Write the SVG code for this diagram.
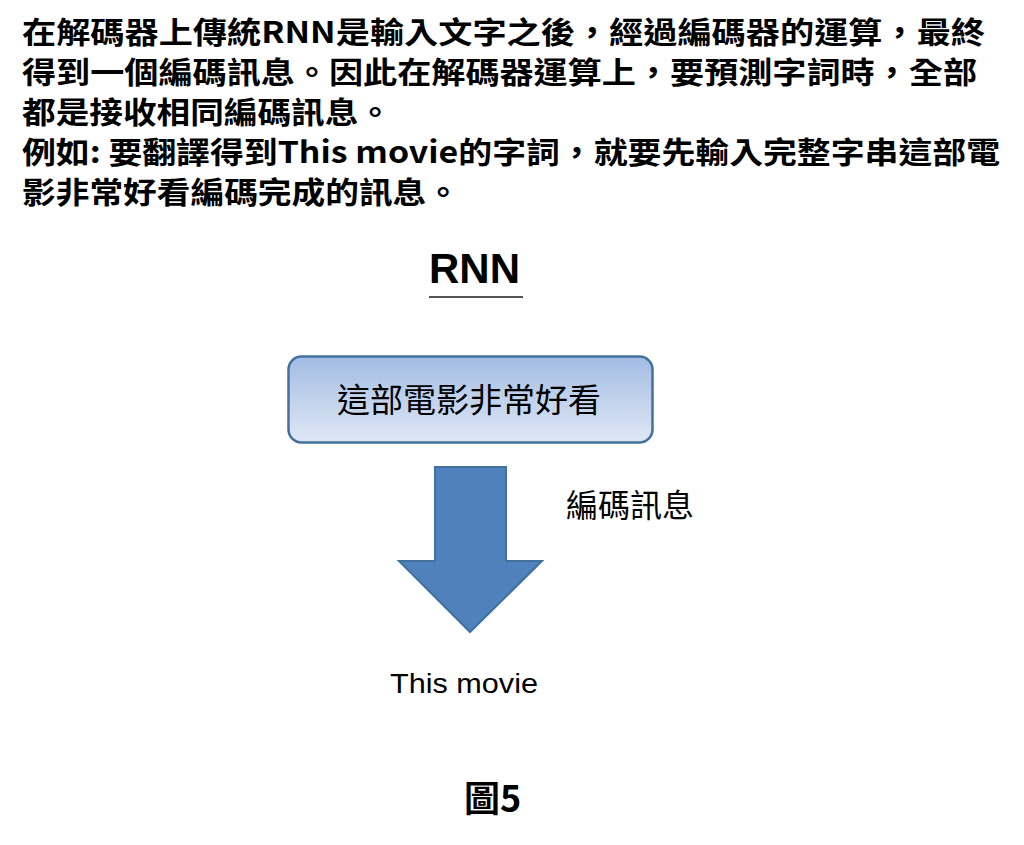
<svg xmlns="http://www.w3.org/2000/svg" width="1024" height="845" viewBox="0 0 1024 845">
<defs>
<linearGradient id="boxGrad" x1="0" y1="0" x2="0" y2="1">
<stop offset="0" stop-color="#a3bce3"/>
<stop offset="1" stop-color="#dfe8f5"/>
</linearGradient>
<style>
.para{font-family:"Noto Sans CJK TC","Noto Sans CJK SC",sans-serif;font-size:30px;font-weight:bold;fill:#000}
.cjk{font-family:"Noto Sans CJK TC","Noto Sans CJK SC",sans-serif;fill:#000}
.lat{font-family:"Liberation Sans",Arial,sans-serif;fill:#000}
</style>
</defs>
<rect width="1024" height="845" fill="#fff"/>
<g id="paragraph">
<text class="para" x="22" y="43" textLength="963" lengthAdjust="spacingAndGlyphs">在解碼器上傳統RNN是輸入文字之後，經過編碼器的運算，最終</text>
<text class="para" x="22" y="83" textLength="955" lengthAdjust="spacingAndGlyphs">得到一個編碼訊息。因此在解碼器運算上，要預測字詞時，全部</text>
<text class="para" x="22" y="123" textLength="370" lengthAdjust="spacingAndGlyphs">都是接收相同編碼訊息。</text>
<text class="para" x="22" y="163" textLength="978" lengthAdjust="spacingAndGlyphs">例如: 要翻譯得到This movie的字詞，就要先輸入完整字串這部電</text>
<text class="para" x="22" y="203" textLength="438" lengthAdjust="spacingAndGlyphs">影非常好看編碼完成的訊息。</text>
</g>
<g id="title">
<text class="lat" x="429" y="283" font-size="42" font-weight="bold" textLength="91" lengthAdjust="spacingAndGlyphs">RNN</text>
<line x1="429" y1="297" x2="523" y2="297" stroke="#555" stroke-width="2"/>
</g>
<g id="input-box">
<rect x="288.5" y="356.5" width="364" height="86" rx="13" ry="13" fill="url(#boxGrad)" stroke="#41719c" stroke-width="2.5"/>
<text class="cjk" x="469" y="412" font-size="33" text-anchor="middle">這部電影非常好看</text>
</g>
<g id="connectors">
<polygon points="435,467 506,467 506,561 542,561 470,632 399,561 435,561" fill="#4f81bd" stroke="#41719c" stroke-width="2"/>
</g>
<g id="arrow-label">
<text class="cjk" x="566" y="517" font-size="32">編碼訊息</text>
</g>
<g id="output">
<text class="lat" x="390" y="693" font-size="28" textLength="148" lengthAdjust="spacingAndGlyphs">This movie</text>
</g>
<g id="caption">
<text class="cjk" x="464" y="812" font-size="36" font-weight="bold">圖5</text>
</g>
</svg>
